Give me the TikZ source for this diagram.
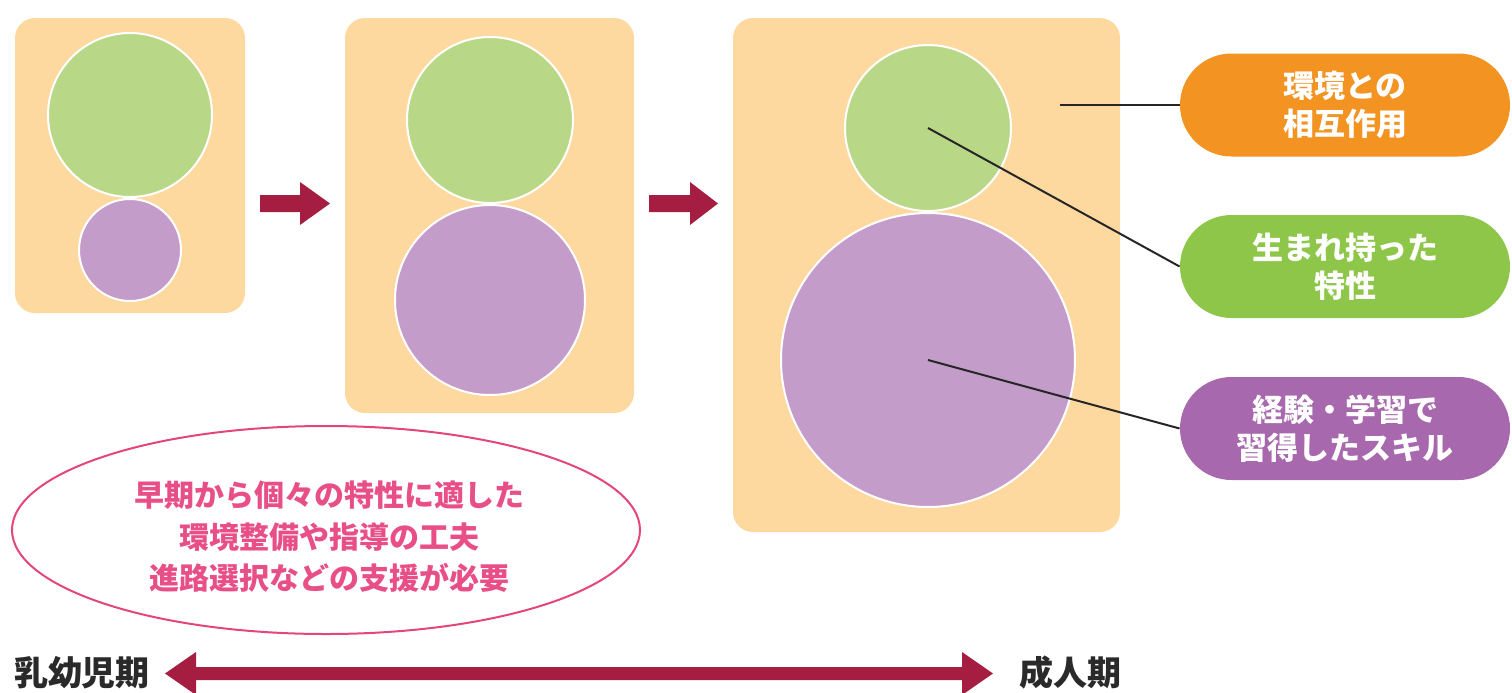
\documentclass[tikz,border=0pt]{standalone}
\usepackage{fontspec}
\newfontfamily\jp{Noto Sans CJK JP}
\usetikzlibrary{shapes.geometric}
\definecolor{peach}{HTML}{FDD9A0}
\definecolor{lgreen}{HTML}{B8D887}
\definecolor{lpurple}{HTML}{C49CCA}
\definecolor{porange}{HTML}{F39322}
\definecolor{pgreen}{HTML}{8DC649}
\definecolor{ppurple}{HTML}{A868AD}
\definecolor{crimson}{HTML}{A51E42}
\definecolor{pinkline}{HTML}{E4457D}
\definecolor{pinktext}{HTML}{E84F86}
\definecolor{darktext}{HTML}{2A2A2A}
\tikzset{
  stagebox/.style={fill=peach, rounded corners=10pt, inner sep=0pt},
  gcirc/.style={circle, fill=lgreen, draw=white, line width=1pt, inner sep=0pt},
  pcirc/.style={circle, fill=lpurple, draw=white, line width=1pt, inner sep=0pt},
  pill/.style={rounded corners=25.75pt, minimum width=165pt, minimum height=51.5pt, inner sep=0pt,
    text=white, font=\jp\bfseries\fontsize{15.5pt}{19pt}\selectfont, align=center},
  leader/.style={draw=black!85, line width=1pt},
  fat/.style={fill=crimson},
  endlabel/.style={text=darktext, font=\jp\bfseries\fontsize{17pt}{20pt}\selectfont, inner sep=0pt}
}
\begin{document}
\begin{tikzpicture}[x=0.5pt,y=-0.5pt]
\useasboundingbox (0,0) rectangle (1512,692);
% stage boxes
\node[stagebox, minimum width=115pt, minimum height=147.5pt] (b1) at (130,165.5) {};
\node[stagebox, minimum width=144.5pt, minimum height=197.5pt] (b2) at (489.5,215.5) {};
\node[stagebox, minimum width=193.5pt, minimum height=257pt] (b3) at (926.5,275) {};
% circles
\node[gcirc, minimum size=82pt] (g1) at (130,115) {};
\node[pcirc, minimum size=51pt] (p1) at (130,250) {};
\node[gcirc, minimum size=83pt] (g2) at (490,120) {};
\node[pcirc, minimum size=95pt] (p2) at (490,300) {};
\node[gcirc, minimum size=83pt] (g3) at (928,128) {};
\node[pcirc, minimum size=147pt] (p3) at (928,360) {};
% small arrows
\fill[fat] (260,195) -- (300,195) -- (300,182) -- (330,203.5) -- (300,225) -- (300,212) -- (260,212) -- cycle;
\fill[fat] (649,195) -- (690,195) -- (690,182) -- (718,203.5) -- (690,225) -- (690,212) -- (649,212) -- cycle;
% pills
\node[pill, fill=porange] (po) at (1345,105) {環境との\\相互作用};
\node[pill, fill=pgreen] (pg) at (1345,266.5) {生まれ持った\\特性};
\node[pill, fill=ppurple] (pp) at (1345,428.5) {経験・学習で\\習得したスキル};
% leader lines
\coordinate (envpt) at (1060,105);
\draw[leader] (envpt) -- (po.west);
\draw[leader] (g3.center) -- (pg.west);
\draw[leader] (p3.center) -- (pp.west);
% ellipse
\node[ellipse, draw=pinkline, line width=1pt, minimum width=314pt, minimum height=104pt, inner sep=0pt] (el) at (326,530) {};
\node[text=pinktext, font=\jp\bfseries\fontsize{15pt}{20.75pt}\selectfont, align=center, inner sep=0pt] (eltext) at (329,537)
  {早期から個々の特性に適した\\環境整備や指導の工夫\\進路選択などの支援が必要};
% bottom axis
\node[endlabel] (lchild) at (82,673) {乳幼児期};
\node[endlabel] (ladult) at (1070,673) {成人期};
\fill[fat] (165,673.5) -- (196,652) -- (196,667) -- (962,667) -- (962,652) -- (993,673.5) -- (962,695) -- (962,680) -- (196,680) -- (196,695) -- cycle;
\end{tikzpicture}
\end{document}
